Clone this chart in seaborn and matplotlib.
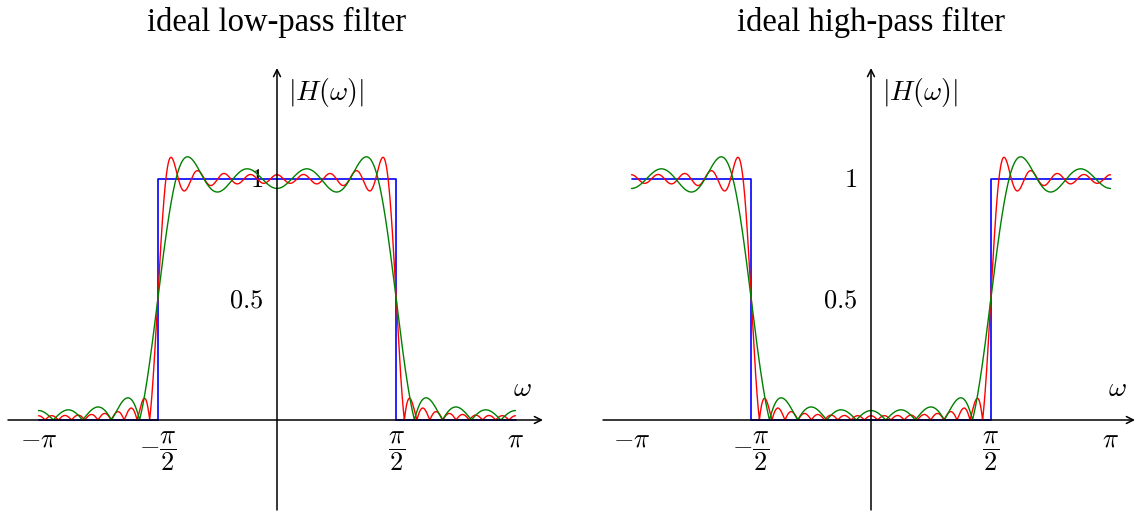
import numpy as np
import pandas as pd
import seaborn as sns
import matplotlib
matplotlib.use("Agg")
import matplotlib.pyplot as plt

# ideal responses (break points)
ideal_w = [-np.pi, -np.pi / 2, -np.pi / 2, np.pi / 2, np.pi / 2, np.pi]
ideal_lowpass = [0, 0, 1, 1, 0, 0]
ideal_highpass = [1, 1, 0, 0, 1, 1]

# truncated impulse responses of the low-pass prototype (cutoff pi/2), taps for n = 0, 1, 2, ...
taps_short = [0.5, 0.63662, 0.0, -0.21221, 0.0, 0.12732, 0.0, -0.09095]
taps_long = [0.5, 0.63662, 0.0, -0.21221, 0.0, 0.12732, 0.0, -0.09095, 0.0,
             0.07074, 0.0, -0.05787, 0.0, 0.04897, 0.0, -0.04244, 0.0, 0.03745]

x_ticks = [-np.pi, -np.pi / 2, np.pi / 2, np.pi]
x_ticklabels = [r"$-\pi$", r"$-\dfrac{\pi}{2}$", r"$\dfrac{\pi}{2}$", r"$\pi$"]
y_ticks = [0.5, 1]
y_ticklabels = [r"$0.5$", r"$1$"]
titles = ["ideal low-pass filter", "ideal high-pass filter"]

sns.set_style("white")
plt.rcParams["font.family"] = ["Liberation Serif", "DejaVu Serif"]
plt.rcParams["mathtext.fontset"] = "cm"
plt.rcParams["text.color"] = "black"
plt.rcParams["xtick.labelcolor"] = "black"
plt.rcParams["ytick.labelcolor"] = "black"

w = np.linspace(-np.pi, np.pi, 2000)


def response(taps, highpass=False):
    h = np.zeros_like(w)
    for n, c in enumerate(taps):
        h += c * np.cos(n * w)
    if highpass:
        h = 1 - h
    return np.abs(h)


fig = plt.figure(figsize=(11.37, 5.12), dpi=100)
W, H = 1137, 512

# pixel layout of the two panels: (left px, right px, px of w=0, px per unit)
panels = [(8, 543, 277, 477 / (2 * np.pi)), (603, 1135, 871, 479 / (2 * np.pi))]
y_top, y_bot, y_zero, y_unit = 68, 510, 420, 241

for i, (xl, xr, x0, xu) in enumerate(panels):
    ax = fig.add_axes([xl / W, (H - y_bot) / H, (xr - xl) / W, (y_bot - y_top) / H])
    ax.set_xlim((xl - x0) / xu, (xr - x0) / xu)
    ax.set_ylim((y_zero - y_bot) / y_unit, (y_zero - y_top) / y_unit)
    hp = i == 1

    df = pd.DataFrame({"w": ideal_w, "H": ideal_highpass if hp else ideal_lowpass})
    sns.lineplot(data=df, x="w", y="H", ax=ax, color="blue", lw=1.2,
                 sort=False, estimator=None)
    for taps, col in [(taps_long, "red"), (taps_short, "#008000")]:
        d = pd.DataFrame({"w": w, "H": response(taps, hp)})
        sns.lineplot(data=d, x="w", y="H", ax=ax, color=col,
                     lw=1.0, sort=False, estimator=None)

    for s in ["top", "right"]:
        ax.spines[s].set_visible(False)
    ax.spines["left"].set_position(("data", 0))
    ax.spines["bottom"].set_position(("data", 0))
    ax.spines["left"].set_color("none")
    ax.spines["bottom"].set_color("none")
    arrow = dict(arrowstyle="->,head_length=0.5,head_width=0.25", lw=1.1, color="black",
                 shrinkA=0, shrinkB=0)
    ax.annotate("", xy=(1, 0), xytext=(0, 0), xycoords=("axes fraction", "data"),
                textcoords=("axes fraction", "data"), arrowprops=arrow)
    ax.annotate("", xy=(0, 1), xytext=(0, 0), xycoords=("data", "axes fraction"),
                textcoords=("data", "axes fraction"), arrowprops=arrow)

    ax.set_xticks(x_ticks)
    ax.set_xticklabels(x_ticklabels)
    ax.set_yticks(y_ticks)
    ax.set_yticklabels(y_ticklabels)
    ax.tick_params(direction="inout", length=8, width=0.8, color="#999999",
                   labelsize=19, pad=3)
    ax.tick_params(axis="y", pad=6)
    ax.set_xlabel("")
    ax.set_ylabel("")

    ax.text(3.23, 0.075, r"$\omega$", fontsize=20, ha="center", va="bottom")
    ax.text(0.14, 1.36, r"$|H(\omega)|$", fontsize=20, ha="left", va="center")
    fig.text(x0 / W, 1 - 22 / H, titles[i], fontsize=23.5, ha="center", va="center")

fig.savefig("out.png", dpi=100)
